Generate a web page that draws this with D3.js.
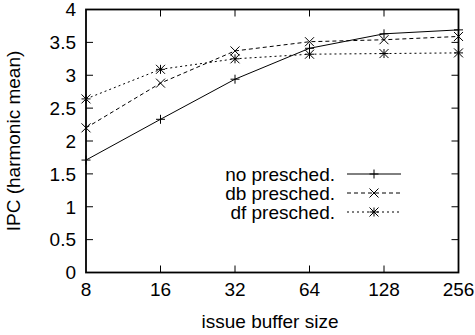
<!DOCTYPE html>
<html><head><meta charset="utf-8">
<script src="https://cdn.jsdelivr.net/npm/d3@7"></script>
<style>body{margin:0;background:#fff}svg{display:block}text{font-family:"Liberation Sans",Arial,sans-serif;fill:#000}</style>
</head><body><svg id="c" width="475" height="335"></svg>
<script>
const categories = ["8","16","32","64","128","256"];
const noPresched = [1.71,2.33,2.94,3.41,3.63,3.69];
const dbPresched = [2.20,2.88,3.37,3.51,3.54,3.59];
const dfPresched = [2.64,3.09,3.25,3.32,3.33,3.34];
const yTicks = [0,0.5,1,1.5,2,2.5,3,3.5,4];
const seriesNames = ["no presched.","db presched.","df presched."];

const svg = d3.select("#c");
const L=86,R=458.5,T=9.5,B=272.5;
const x = d3.scalePoint().domain(categories).range([L,R]);
const y = d3.scaleLinear().domain([0,4]).range([B,T]);
const fs = 19;

const tl=7;
const g = svg.append("g");
yTicks.forEach(v=>{
  if(v>0&&v<4){
  g.append("line").attr("x1",L).attr("x2",L+tl).attr("y1",y(v)).attr("y2",y(v)).attr("stroke","#000").attr("stroke-width",1);
  g.append("line").attr("x1",R).attr("x2",R-tl).attr("y1",y(v)).attr("y2",y(v)).attr("stroke","#000").attr("stroke-width",1);}
  g.append("text").attr("x",L-10).attr("y",y(v)).attr("dy","0.36em").attr("text-anchor","end").attr("font-size",fs).text(v);
});
categories.forEach(c=>{
  if(c!=="8"&&c!=="256"){
  g.append("line").attr("x1",x(c)).attr("x2",x(c)).attr("y1",B).attr("y2",B-tl).attr("stroke","#000");
  g.append("line").attr("x1",x(c)).attr("x2",x(c)).attr("y1",T).attr("y2",T+tl).attr("stroke","#000");}
  g.append("text").attr("x",x(c)).attr("y",296).attr("text-anchor","middle").attr("font-size",fs).text(c);
});
svg.append("rect").attr("x",L).attr("y",T).attr("width",R-L).attr("height",B-T).attr("fill","none").attr("stroke","#000").attr("stroke-width",1.8);

svg.append("text").attr("x",270).attr("y",328).attr("text-anchor","middle").attr("font-size",fs).text("issue buffer size");
svg.append("text").attr("transform",`translate(20,${(T+B)/2}) rotate(-90)`).attr("text-anchor","middle").attr("font-size",fs).text("IPC (harmonic mean)");

const dashes = [null,"4,3","2,3"];
const data = [noPresched,dbPresched,dfPresched];
const ms=4.5;
function marker(sel,k,cx,cy){
  const p = sel.append("path").attr("fill","none").attr("stroke","#000").attr("stroke-width",1);
  let d="";
  if(k===0||k===2) d+=`M${cx-ms},${cy}H${cx+ms}M${cx},${cy-ms}V${cy+ms}`;
  if(k===1||k===2) d+=`M${cx-ms},${cy-ms}L${cx+ms},${cy+ms}M${cx-ms},${cy+ms}L${cx+ms},${cy-ms}`;
  p.attr("d",d);
}
const line = d3.line().x((d,i)=>x(categories[i])).y(d=>y(d));
data.forEach((s,k)=>{
  svg.append("path").datum(s).attr("d",line).attr("fill","none").attr("stroke","#000").attr("stroke-width",1).attr("stroke-dasharray",dashes[k]);
  s.forEach((v,i)=>marker(svg,k,x(categories[i]),y(v)));
});
const ly=[174,193,212];
seriesNames.forEach((n,k)=>{
  svg.append("text").attr("x",335).attr("y",ly[k]).attr("dy","0.36em").attr("text-anchor","end").attr("font-size",fs).text(n);
  svg.append("line").attr("x1",347).attr("x2",401).attr("y1",ly[k]).attr("y2",ly[k]).attr("stroke","#000").attr("stroke-dasharray",dashes[k]);
  marker(svg,k,374,ly[k]);
});
</script></body></html>
